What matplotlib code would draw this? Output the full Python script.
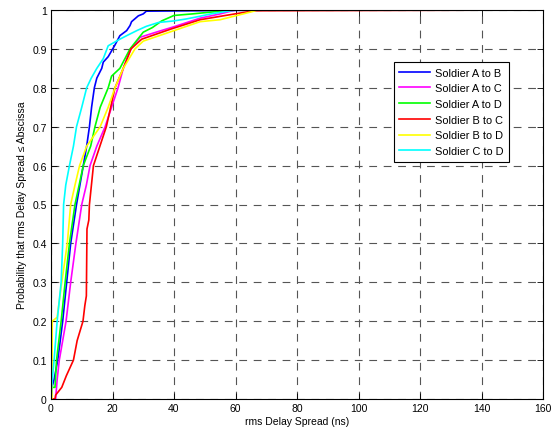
import matplotlib
matplotlib.use("Agg")
import matplotlib.pyplot as plt

plt.rcParams['font.family'] = ['Liberation Sans', 'DejaVu Sans']

labels = ["Soldier A to B", "Soldier A to C", "Soldier A to D",
          "Soldier B to C", "Soldier B to D", "Soldier C to D"]
colors = ["#0000ff", "#ff00ff", "#00ff00", "#ff0000", "#ffff00", "#00ffff"]

ab_x = [0, 0.3, 1.0, 2.2, 3.8, 5.1, 6.4, 8.3, 9.4, 10.5, 11.6, 12.5, 13.2, 14.1, 14.9, 16.5, 17.0, 18.6, 20.8, 22.4, 24.6, 25.7, 26.2, 28.4, 30, 31, 75, 160]
ab_y = [0, 0.03, 0.05, 0.10, 0.20, 0.30, 0.40, 0.50, 0.55, 0.60, 0.65, 0.70, 0.75, 0.80, 0.825, 0.85, 0.866, 0.88, 0.91, 0.934, 0.947, 0.96, 0.97, 0.985, 0.99, 0.997, 1.0, 1.0]

ac_x = [0, 1.5, 2.0, 2.7, 4.9, 6.4, 8.1, 10.0, 11.5, 12.7, 14.9, 17.6, 19.7, 21.8, 23.5, 26, 29, 35, 40, 48.5, 55, 60, 160]
ac_y = [0, 0.0, 0.05, 0.10, 0.20, 0.30, 0.40, 0.50, 0.55, 0.60, 0.65, 0.70, 0.75, 0.80, 0.85, 0.90, 0.93, 0.945, 0.957, 0.979, 0.99, 1.0, 1.0]

ad_x = [0, 0.2, 1.3, 1.8, 3.3, 4.6, 6.0, 7.8, 10.5, 12.9, 14.3, 16.0, 18.6, 19.7, 22.4, 25.7, 30, 33, 36, 40, 46, 59, 160]
ad_y = [0, 0.03, 0.03, 0.10, 0.20, 0.30, 0.40, 0.50, 0.60, 0.65, 0.70, 0.75, 0.80, 0.83, 0.85, 0.90, 0.943, 0.955, 0.972, 0.986, 0.99, 1.0, 1.0]

bc_x = [0, 1.3, 1.5, 2.5, 3.5, 5.0, 7.3, 8.5, 10.4, 11.0, 11.5, 11.7, 12.3, 12.5, 13.8, 18.0, 20.8, 23.5, 26, 29.5, 39, 48.5, 56, 66, 160]
bc_y = [0, 0.0, 0.01, 0.02, 0.03, 0.06, 0.10, 0.15, 0.20, 0.24, 0.265, 0.437, 0.46, 0.50, 0.60, 0.70, 0.80, 0.85, 0.90, 0.925, 0.951, 0.975, 0.985, 0.998, 1.0]

bd_x = [0, 0.3, 0.4, 2.0, 3.5, 5.3, 6.4, 7.8, 9.3, 11.6, 16.0, 18.6, 20.8, 23.5, 27.3, 30, 40, 48.5, 55, 66, 67, 160]
bd_y = [0, 0.0, 0.20, 0.21, 0.30, 0.40, 0.50, 0.55, 0.60, 0.65, 0.70, 0.75, 0.80, 0.85, 0.90, 0.92, 0.947, 0.97, 0.975, 0.997, 1.0, 1.0]

cd_x = [0, 0.2, 1.0, 2.0, 3.3, 3.8, 4.1, 4.8, 6.0, 7.3, 8.3, 10.0, 11.6, 13.1, 14.9, 17.0, 18.6, 22.4, 24.6, 27.9, 31, 35, 40, 44, 48.5, 52, 60, 160]
cd_y = [0, 0.03, 0.10, 0.20, 0.30, 0.40, 0.50, 0.55, 0.60, 0.65, 0.70, 0.75, 0.80, 0.825, 0.85, 0.875, 0.908, 0.925, 0.934, 0.947, 0.958, 0.968, 0.972, 0.977, 0.984, 0.99, 1.0, 1.0]

series_x = [ab_x, ac_x, ad_x, bc_x, bd_x, cd_x]
series_y = [ab_y, ac_y, ad_y, bc_y, bd_y, cd_y]

xticks = [0, 20, 40, 60, 80, 100, 120, 140, 160]
yticks = [0, 0.1, 0.2, 0.3, 0.4, 0.5, 0.6, 0.7, 0.8, 0.9, 1]
yticklabels = ["0", "0.1", "0.2", "0.3", "0.4", "0.5", "0.6", "0.7", "0.8", "0.9", "1"]

fig = plt.figure(figsize=(5.57, 4.31), dpi=100)
ax = fig.add_axes([51/557, 31/431, 492/557, 389/431])

for xs, ys, c, lab in zip(series_x, series_y, colors, labels):
    ax.plot(xs, ys, color=c, lw=1.2, label=lab)

ax.set_xlim(0, 160)
ax.set_ylim(0, 1)
ax.set_xticks(xticks)
ax.set_yticks(yticks)
ax.set_yticklabels(yticklabels)
ax.tick_params(direction='in', length=4, width=0.6, labelsize=7.5, top=True, right=True, pad=3)
ax.grid(True, color='#555555', linestyle=(0, (7, 6)), linewidth=0.8)
for s in ax.spines.values():
    s.set_linewidth(0.8)

ax.set_xlabel("rms Delay Spread (ns)", fontsize=7.5, labelpad=2)
ax.set_ylabel("Probability that rms Delay Spread \u2264 Abscissa", fontsize=7.5, labelpad=4)

leg = ax.legend(loc='upper left', bbox_to_anchor=(0.697, 0.866), borderaxespad=0,
                fontsize=7.9, fancybox=False, framealpha=1, edgecolor='black',
                handlelength=2.8, borderpad=0.5, labelspacing=0.52, handletextpad=0.45)
leg.get_frame().set_linewidth(0.8)

fig.savefig("out.png", dpi=100)
